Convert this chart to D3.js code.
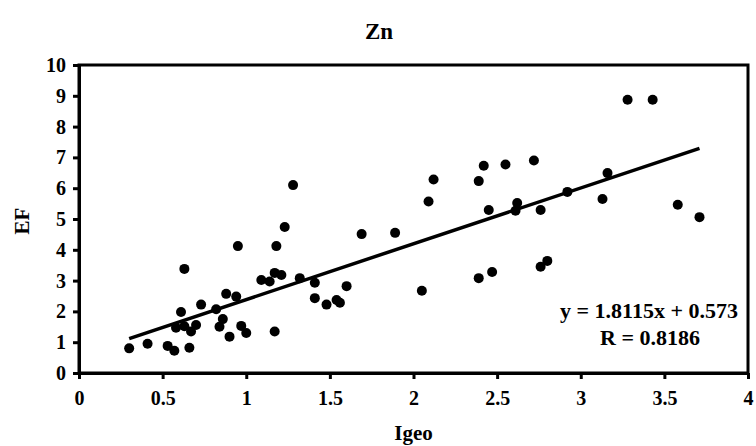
<!DOCTYPE html>
<html>
<head>
<meta charset="utf-8">
<script src="https://cdn.jsdelivr.net/npm/d3@7"></script>
<style>
  html, body { margin: 0; padding: 0; background: #fff; }
  svg { display: block; }
  text { font-family: "Liberation Serif", "Times New Roman", serif; font-weight: bold; fill: #000; }
</style>
</head>
<body>
<svg id="chart" width="756" height="446"></svg>
<script>
// Igeo vs EF for Zn
const igeo = [0.30, 0.41, 0.53, 0.57, 0.58, 0.61, 0.63, 0.63, 0.66, 0.67,
              0.70, 0.73, 0.82, 0.84, 0.86, 0.88, 0.90, 0.94, 0.95, 0.97,
              1.00, 1.09, 1.14, 1.17, 1.18, 1.17, 1.21, 1.23, 1.28, 1.32,
              1.41, 1.41, 1.48, 1.54, 1.56, 1.60, 1.69, 1.89, 2.05, 2.09,
              2.12, 2.39, 2.39, 2.42, 2.45, 2.47, 2.55, 2.61, 2.62, 2.72,
              2.76, 2.80, 2.76, 2.92, 3.13, 3.16, 3.28, 3.43, 3.58, 3.71];
const ef   = [0.80, 0.95, 0.88, 0.72, 1.47, 1.98, 3.38, 1.52, 0.82, 1.35,
              1.56, 2.22, 2.07, 1.50, 1.75, 2.57, 1.18, 2.48, 4.12, 1.53,
              1.30, 3.02, 2.97, 3.25, 4.12, 1.35, 3.18, 4.74, 6.10, 3.08,
              2.93, 2.43, 2.22, 2.37, 2.28, 2.82, 4.51, 4.55, 2.67, 5.57,
              6.28, 3.08, 6.23, 6.73, 5.29, 3.28, 6.77, 5.27, 5.52, 6.90,
              3.45, 3.64, 5.29, 5.88, 5.65, 6.49, 8.87, 8.87, 5.46, 5.06];

const xTicks = [0, 0.5, 1, 1.5, 2, 2.5, 3, 3.5, 4];
const yTicks = [0, 1, 2, 3, 4, 5, 6, 7, 8, 9, 10];

// linear fit reported on the chart
const slope = 1.8115, intercept = 0.573, rValue = 0.8186;

const svg = d3.select("#chart");
const plotLeft = 79, plotRight = 748, plotTop = 65, plotBottom = 373;

const x = d3.scaleLinear().domain([0, 4]).range([plotLeft, plotRight]);
const y = d3.scaleLinear().domain([0, 10]).range([plotBottom, plotTop]);

// title
svg.append("text").attr("x", 379).attr("y", 39)
  .attr("text-anchor", "middle").style("font-size", "23px").text("Zn");

// frame around plot area
svg.append("rect").attr("x", plotLeft).attr("y", plotTop)
  .attr("width", plotRight - plotLeft).attr("height", plotBottom - plotTop)
  .attr("fill", "none").attr("stroke", "#000").attr("stroke-width", 3);

// axes
const xAxis = svg.append("g").attr("transform", `translate(0,${plotBottom})`)
  .call(d3.axisBottom(x).tickValues(xTicks).tickFormat(d3.format("")).tickSizeInner(6).tickSizeOuter(0).tickPadding(12));
const yAxis = svg.append("g").attr("transform", `translate(${plotLeft},0)`)
  .call(d3.axisLeft(y).tickValues(yTicks).tickSizeInner(6).tickSizeOuter(0).tickPadding(7));

[xAxis, yAxis].forEach(g => {
  g.select(".domain").attr("stroke", "#000").attr("stroke-width", 3);
  g.selectAll(".tick line").attr("stroke", "#000").attr("stroke-width", 3);
  g.selectAll(".tick text")
    .style("font-family", "'Liberation Serif', 'Times New Roman', serif")
    .style("font-weight", "bold").style("font-size", "20px").attr("fill", "#000");
});

// axis titles
svg.append("text").attr("x", (plotLeft + plotRight) / 2).attr("y", 440)
  .attr("text-anchor", "middle").style("font-size", "21px").text("Igeo");
svg.append("text").attr("transform", `translate(29,${(plotTop + plotBottom) / 2 + 2}) rotate(-90)`)
  .attr("text-anchor", "middle").style("font-size", "21px").text("EF");

// trend line across the data range
const [xMin, xMax] = d3.extent(igeo);
svg.append("line")
  .attr("x1", x(xMin)).attr("y1", y(slope * xMin + intercept))
  .attr("x2", x(xMax)).attr("y2", y(slope * xMax + intercept))
  .attr("stroke", "#000").attr("stroke-width", 3.5);

// points
svg.append("g").selectAll("circle")
  .data(igeo.map((v, i) => [v, ef[i]]))
  .join("circle")
  .attr("cx", d => x(d[0])).attr("cy", d => y(d[1]))
  .attr("r", 5).attr("fill", "#000");

// equation
svg.append("text").attr("x", 649).attr("y", 318)
  .attr("text-anchor", "middle").style("font-size", "22px")
  .text(`y = ${slope}x + ${intercept}`);
svg.append("text").attr("x", 650).attr("y", 345)
  .attr("text-anchor", "middle").style("font-size", "22px")
  .text(`R = ${rValue}`);
</script>
</body>
</html>
